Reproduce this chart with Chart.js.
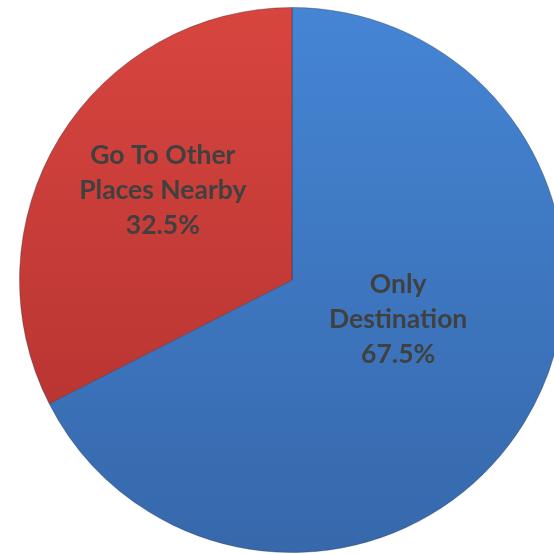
<!DOCTYPE html>
<html>
<head>
<meta charset="utf-8">
<script src="https://cdn.jsdelivr.net/npm/chart.js@4/dist/chart.umd.min.js"></script>
<style>
    html, body { margin: 0; padding: 0; background: #fff; overflow: hidden; }
    #wrap { position: absolute; left: 0; top: 0; width: 584px; height: 554px; }
</style>
</head>
<body>
<div id="wrap"><canvas id="myPieChart"></canvas></div>
<script>
// data
var categories = [["Only", "Destination"], ["Go To Other", "Places Nearby"]];
var shares = [67.5, 32.5];
var shareLabels = ["67.5%", "32.5%"];

// slice fills, top -> bottom
var sliceColors = [
    ["#4585d4", "#3668ab"],
    ["#d8453f", "#ae302e"]
];

function sliceFill(ctx) {
    var chart = ctx.chart;
    var area = chart.chartArea;
    if (!area) return sliceColors[ctx.dataIndex][0];
    var g = chart.ctx.createLinearGradient(0, area.top, 0, area.bottom);
    g.addColorStop(0, sliceColors[ctx.dataIndex][0]);
    g.addColorStop(1, sliceColors[ctx.dataIndex][1]);
    return g;
}

// draws the label text inside each slice
var sliceLabels = {
    id: 'sliceLabels',
    afterDatasetsDraw: function (chart, args, opts) {
        var c = chart.ctx;
        var meta = chart.getDatasetMeta(0);
        c.save();
        c.font = opts.font;
        c.fillStyle = opts.color;
        c.textAlign = 'center';
        c.textBaseline = 'middle';
        meta.data.forEach(function (arc, i) {
            var p = arc.tooltipPosition();
            var off = opts.offsets[i];
            var lines = categories[i].concat([shareLabels[i]]);
            var x = p.x + off[0];
            var y = p.y + off[1] - (lines.length - 1) * opts.lineHeight / 2;
            lines.forEach(function (t, k) {
                c.fillText(t, x, y + k * opts.lineHeight);
            });
        });
        c.restore();
    }
};

new Chart("myPieChart", {
    type: "pie",
    data: {
        labels: categories.map(function (l) { return l.join(" "); }),
        datasets: [{
            data: shares,
            backgroundColor: sliceFill,
            borderColor: "rgba(40,40,60,0.35)",
            borderWidth: 1
        }]
    },
    options: {
        responsive: true,
        maintainAspectRatio: false,
        animation: false,
        layout: { padding: { top: 7, bottom: 1 } },
        plugins: {
            legend: { display: false },
            tooltip: { enabled: false },
            sliceLabels: {
                font: "bold 26.5px Lato",
                color: "#404040",
                lineHeight: 35,
                offsets: [[-10, -32], [-13, -18]]
            }
        }
    },
    plugins: [sliceLabels]
});
</script>
</body>
</html>
